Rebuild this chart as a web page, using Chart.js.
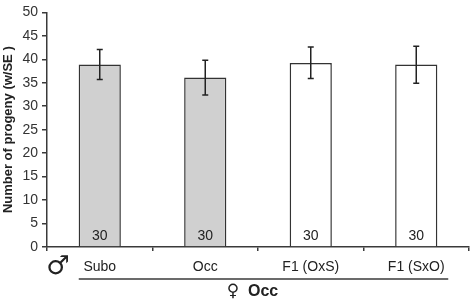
<!DOCTYPE html>
<html>
<head>
<meta charset="utf-8">
<script src="https://cdn.jsdelivr.net/npm/chart.js@4/dist/chart.umd.min.js"></script>
<style>
  html, body { margin: 0; padding: 0; background: #fff; }
  #wrap { width: 472px; height: 301px; }
</style>
</head>
<body>
<div id="wrap"><canvas id="chartA"></canvas></div>
<script>
var categories = ['Subo', 'Occ', 'F1 (OxS)', 'F1 (SxO)'];
var means = [38.9, 36.1, 39.2, 38.9];
var errLow = [35.7, 32.4, 35.9, 34.9];
var errHigh = [42.1, 39.8, 42.6, 42.8];
var sampleSizes = [30, 30, 30, 30];
var barFills = ['#d0d0d0', '#d0d0d0', '#ffffff', '#ffffff'];
var yTicks = [0, 5, 10, 15, 20, 25, 30, 35, 40, 45, 50];

var axisColor = '#3a3a3a';
var font = 'Liberation Sans, Arial, sans-serif';

// error bars, n labels and the sex symbols below the axis
var extras = {
  id: 'extras',
  afterDatasetsDraw: function (chart) {
    var ctx = chart.ctx;
    var x = chart.scales.x, y = chart.scales.y;
    ctx.save();
    ctx.strokeStyle = '#222';
    ctx.lineWidth = 1.5;
    for (var i = 0; i < categories.length; i++) {
      var cx = x.getPixelForValue(i);
      var top = y.getPixelForValue(errHigh[i]);
      var bot = y.getPixelForValue(errLow[i]);
      ctx.beginPath();
      ctx.moveTo(cx, top); ctx.lineTo(cx, bot);
      ctx.moveTo(cx - 3, top); ctx.lineTo(cx + 3, top);
      ctx.moveTo(cx - 3, bot); ctx.lineTo(cx + 3, bot);
      ctx.stroke();

      ctx.fillStyle = '#222';
      ctx.font = '14px ' + font;
      ctx.textAlign = 'center';
      ctx.textBaseline = 'middle';
      ctx.fillText(String(sampleSizes[i]), cx, y.getPixelForValue(0) - 11);
    }

    // line under the category labels
    var left = x.getPixelForValue(0) - 21;
    var right = x.getPixelForValue(categories.length - 1) + 32;
    ctx.strokeStyle = axisColor;
    ctx.lineWidth = 1.5;
    ctx.beginPath();
    ctx.moveTo(left, 279); ctx.lineTo(right, 279);
    ctx.stroke();

    ctx.fillStyle = '#222';
    ctx.textBaseline = 'middle';
    ctx.textAlign = 'center';
    ctx.font = '26px DejaVu Sans, sans-serif';
    ctx.fillText('\u2642', 58, 267);
    ctx.font = '17px DejaVu Sans, sans-serif';
    ctx.fillText('\u2640', 233, 292);
    ctx.textAlign = 'left';
    ctx.font = 'bold 16px ' + font;
    ctx.fillText('Occ', 248, 292);
    ctx.restore();
  }
};

var ctx = document.getElementById('chartA').getContext('2d');
var chartA = new Chart(ctx, {
  type: 'bar',
  data: {
    labels: categories,
    datasets: [{
      data: means,
      backgroundColor: barFills,
      borderColor: '#333',
      borderWidth: 1.5,
      barPercentage: 0.4,
      categoryPercentage: 1
    }]
  },
  options: {
    responsive: true,
    maintainAspectRatio: false,
    animation: false,
    layout: { padding: { top: 5, right: 3, left: 0, bottom: 0 } },
    plugins: {
      legend: { display: false },
      tooltip: { enabled: false }
    },
    scales: {
      x: {
        grid: { display: true, drawOnChartArea: false, offset: true, tickLength: 4, color: axisColor, lineWidth: 1.5 },
        border: { color: axisColor, width: 1.5 },
        ticks: { color: '#222', font: { family: font, size: 14 }, padding: 8, maxRotation: 0 },
        afterFit: function (s) { s.height = 54; }
      },
      y: {
        min: 0,
        max: 50,
        afterBuildTicks: function (s) { s.ticks = yTicks.map(function (v) { return { value: v }; }); },
        grid: { display: true, drawOnChartArea: false, tickLength: 5, color: axisColor, lineWidth: 1.5 },
        border: { color: axisColor, width: 1.5 },
        ticks: { color: '#333', font: { family: font, size: 14 }, padding: 4 },
        title: {
          display: true,
          text: 'Number of progeny (w/SE )',
          color: '#222',
          font: { family: font, size: 13, weight: 'bold' },
          padding: { top: 1, bottom: 0 }
        },
        afterFit: function (s) { s.width = 47; }
      }
    }
  },
  plugins: [extras]
});
</script>
</body>
</html>
